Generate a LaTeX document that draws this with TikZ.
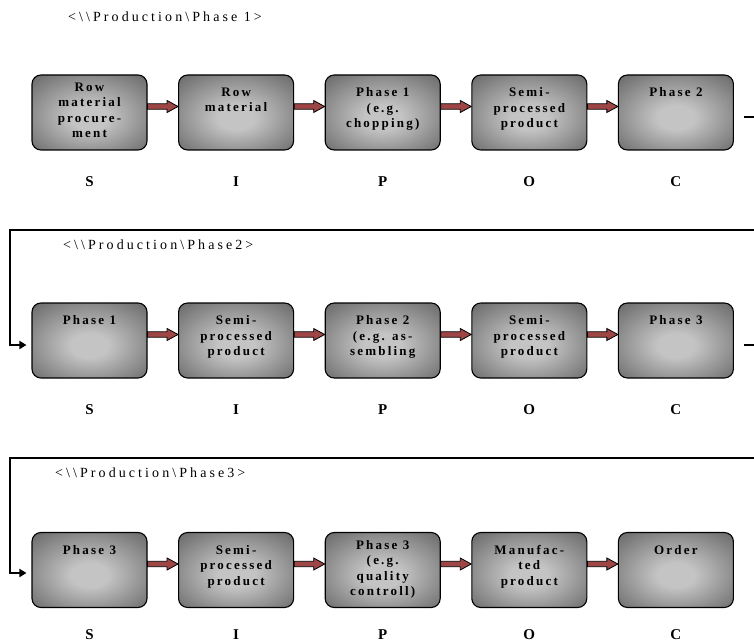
\documentclass[tikz,border=0pt]{standalone}
\usepackage{fontspec}
\setmainfont{Liberation Serif}
\usepackage{tikz}
\usetikzlibrary{arrows.meta, positioning}
\definecolor{boxdark}{HTML}{5C5C5C}
\definecolor{boxlight}{HTML}{C4C4C4}
\definecolor{arrowred}{HTML}{9E4646}
\pgfdeclareradialshading{boxglow}{\pgfpoint{0bp}{-4bp}}{color(0bp)=(boxlight); color(8bp)=(boxlight); color(40bp)=(boxdark); color(50bp)=(boxdark)}

\tikzset{
  procbox/.style={draw=black, line width=1.1pt, rounded corners=9pt, shade, shading=boxglow,
    minimum width=115pt, minimum height=75pt, inner sep=0pt},
  boxtext/.style={font=\fontsize{13}{15.5}\selectfont\bfseries\addfontfeature{LetterSpace=17},
    align=center, inner sep=0pt},
  siplabel/.style={font=\fontsize{15}{18}\selectfont\bfseries, inner sep=0pt},
  phasetitle/.style={font=\fontsize{14}{16}\selectfont\addfontfeature{LetterSpace=22},
    anchor=west, inner sep=0pt},
  blockarrow/.style={draw=black, line width=0.8pt, fill=arrowred, line join=miter},
  loopline/.style={line width=1.8pt, -{Triangle[length=7pt, width=8pt]}},
}

\begin{document}
\begin{tikzpicture}[x=1pt, y=-1pt]

  \useasboundingbox (0,0) rectangle (754,644);
  \fill[white] (0,0) rectangle (754,644);
  \clip (0,0) rectangle (754,644);

  %% Phase 1 row
  \node[phasetitle] (title1) at (68,17)
    {<\textbackslash\textbackslash Production\textbackslash Phase 1>};
  \foreach \c in {1,...,5}
    \node[procbox] (b1\c) at ({89.5+(\c-1)*146.6},112.5) {};
  \foreach \c/\txt/\dy in {1/{Row\\material\\procure-\\ment}/8pt,
                          2/{Row\\material}/13pt,
                          3/{Phase 1\\(e.g.\\chopping)}/13pt,
                          4/{Semi-\\processed\\product}/13pt,
                          5/{Phase 2}/13pt}
    \node[boxtext, below=\dy of b1\c.north] (t1\c) {\txt};

  %% Phase 2 row
  \node[phasetitle] (title2) at (63,245)
    {<\textbackslash\textbackslash Production\textbackslash Phase2>};
  \foreach \c in {1,...,5}
    \node[procbox] (b2\c) at ({89.5+(\c-1)*146.6},340.5) {};
  \foreach \c/\txt/\dy in {1/{Phase 1}/13pt,
                          2/{Semi-\\processed\\product}/13pt,
                          3/{Phase 2\\(e.g. as-\\sembling}/13pt,
                          4/{Semi-\\processed\\product}/13pt,
                          5/{Phase 3}/13pt}
    \node[boxtext, below=\dy of b2\c.north] (t2\c) {\txt};

  %% Phase 3 row
  \node[phasetitle] (title3) at (55,473)
    {<\textbackslash\textbackslash Production\textbackslash Phase3>};
  \foreach \c in {1,...,5}
    \node[procbox] (b3\c) at ({89.5+(\c-1)*146.6},570) {};
  \foreach \c/\txt/\dy in {1/{Phase 3}/13pt,
                          2/{Semi-\\processed\\product}/13pt,
                          3/{Phase 3\\(e.g.\\quality\\controll)}/8pt,
                          4/{Manufac-\\ted\\product}/13pt,
                          5/{Order}/13pt}
    \node[boxtext, below=\dy of b3\c.north] (t3\c) {\txt};

  %% SIPOC letters
  \foreach \r/\dy in {1/69.5pt,2/69.5pt,3/65pt}{
    \foreach \c/\l in {1/S,2/I,3/P,4/O,5/C}
      \node[siplabel] (l\r\c) at ([yshift=-\dy]b\r\c) {\l};
  }

  %% block arrows between boxes
  \foreach \r in {1,2,3}{
    \foreach \c [evaluate=\c as \n using int(\c+1)] in {1,...,4}{
      \draw[blockarrow] ([yshift=8.7pt]b\r\c.east) -- ([xshift=-11pt,yshift=8.7pt]b\r\n.west)
        -- ([xshift=-11pt,yshift=12pt]b\r\n.west) -- ([yshift=6pt]b\r\n.west)
        -- ([xshift=-11pt]b\r\n.west) -- ([xshift=-11pt,yshift=3.3pt]b\r\n.west)
        -- ([yshift=3.3pt]b\r\c.east) -- cycle;
    }
  }

  %% loops from one phase to the next
  \draw[loopline] ([xshift=10pt,yshift=-4.5pt]b15.east) -- ++(30,0) |- (10,230)
    |- ([xshift=-5pt,yshift=-4.5pt]b21.west);
  \draw[loopline] ([xshift=10pt,yshift=-4.5pt]b25.east) -- ++(30,0) |- (10,458)
    |- ([xshift=-5pt,yshift=-3pt]b31.west);

\end{tikzpicture}
\end{document}
